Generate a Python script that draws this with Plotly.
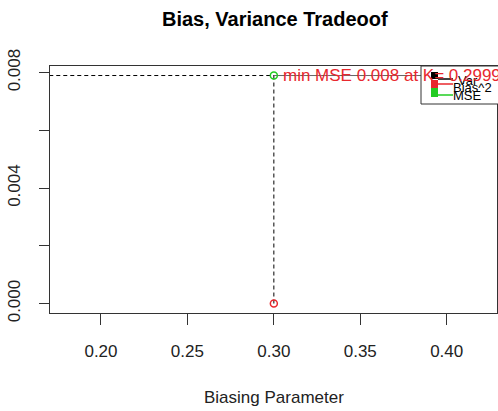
import plotly.graph_objects as go

# Data
k_values = [0.3]
mse_values = [0.0079]
bias2_values = [0.0]
min_mse_label = "min MSE 0.008 at K= 0.2999"
legend_labels = ["Var", "Bias^2", "MSE"]
legend_colors = ["black", "#e8282e", "#22cc22"]
x_tickvals = [0.20, 0.25, 0.30, 0.35, 0.40]
y_tickvals = [0.000, 0.002, 0.004, 0.006, 0.008]
y_ticktext = ["0.000", "", "0.004", "", "0.008"]

W, H = 498, 411
L, R, T, B = 50, 1, 66, 98
PW, PH = W - L - R, H - T - B

def px(x):
    return (x - L) / PW

def py(y):
    return (H - B - y) / PH

fig = go.Figure()

# dashed guide lines
fig.add_trace(go.Scatter(x=[0.0, k_values[0]], y=[mse_values[0], mse_values[0]], mode="lines",
                         line=dict(color="black", width=1, dash="4px,3px"), showlegend=False, hoverinfo="skip"))
fig.add_trace(go.Scatter(x=[k_values[0], k_values[0]], y=[mse_values[0], bias2_values[0]], mode="lines",
                         line=dict(color="black", width=1, dash="4px,3px"), showlegend=False, hoverinfo="skip"))
fig.add_trace(go.Scatter(x=[k_values[0], 1.0], y=[mse_values[0], mse_values[0]], mode="lines",
                         line=dict(color="#666", width=1), showlegend=False, hoverinfo="skip"))

# points
fig.add_trace(go.Scatter(x=k_values, y=mse_values, mode="markers",
                         marker=dict(symbol="circle-open", size=7, color="#22cc22", line=dict(width=1.5)),
                         showlegend=False))
fig.add_trace(go.Scatter(x=k_values, y=bias2_values, mode="markers",
                         marker=dict(symbol="circle-open", size=7, color="#e8282e", line=dict(width=1.5)),
                         showlegend=False))

shapes = []
annotations = []

# legend box
shapes.append(dict(type="rect", xref="paper", yref="paper", x0=px(421), x1=px(505), y0=py(104), y1=py(66),
                   line=dict(color="#333", width=1), fillcolor="white", layer="above"))
sq_y = [(72, 79), (80, 88), (88, 97)]
line_y = [79, 84, 95]
for (y0, y1), ly, c in zip(sq_y, line_y, legend_colors):
    shapes.append(dict(type="rect", xref="paper", yref="paper", x0=px(431), x1=px(438), y0=py(y1), y1=py(y0),
                       line=dict(color=c, width=0), fillcolor=c, layer="above"))
    shapes.append(dict(type="line", xref="paper", yref="paper", x0=px(438), x1=px(453), y0=py(ly), y1=py(ly),
                       line=dict(color=c, width=1.5), layer="above"))
text_pos = [(456, 80), (451, 88), (451, 95)]
for (tx, ty), lab in zip(text_pos, legend_labels):
    annotations.append(dict(text=lab, xref="paper", yref="paper", x=px(tx), y=py(ty), xanchor="left",
                            yanchor="middle", showarrow=False, font=dict(size=13, color="black")))

# min MSE label
annotations.append(dict(text=min_mse_label, x=k_values[0], y=mse_values[0], xref="x", yref="y",
                        xanchor="left", yanchor="middle", xshift=7, showarrow=False,
                        font=dict(size=17, color="#e8282e")))

# title and axis title
annotations.append(dict(text="<b>Bias, Variance Tradeoof</b>", xref="paper", yref="paper", x=px(275), y=py(19),
                        xanchor="center", yanchor="middle", showarrow=False,
                        font=dict(size=20, color="black")))
annotations.append(dict(text="Biasing Parameter", xref="paper", yref="paper", x=px(274), y=py(397),
                        xanchor="center", yanchor="middle", showarrow=False,
                        font=dict(size=17, color="#222")))

fig.update_layout(
    width=W, height=H,
    margin=dict(l=L, r=R, t=T, b=B),
    paper_bgcolor="white", plot_bgcolor="white",
    font=dict(family="Liberation Sans, Arial, sans-serif", color="#222"),
    shapes=shapes, annotations=annotations, showlegend=False,
)
fig.update_xaxes(range=[0.1705, 0.4291], tickvals=x_tickvals, ticktext=[f"{v:.2f}" for v in x_tickvals],
                 ticks="outside", ticklen=11, tickcolor="#333", showgrid=False, zeroline=False,
                 showline=True, linecolor="#333", linewidth=1, mirror=True,
                 tickfont=dict(size=17, color="#222"), ticklabelstandoff=12)
fig.update_yaxes(range=[-0.000326, 0.00823], tickvals=y_tickvals, ticktext=y_ticktext,
                 ticks="outside", ticklen=10, tickcolor="#333", showgrid=False, zeroline=False,
                 showline=True, linecolor="#333", linewidth=1, mirror=True, tickangle=-90,
                 tickfont=dict(size=17, color="#222"), ticklabelstandoff=12)

fig.write_html("out.html")
